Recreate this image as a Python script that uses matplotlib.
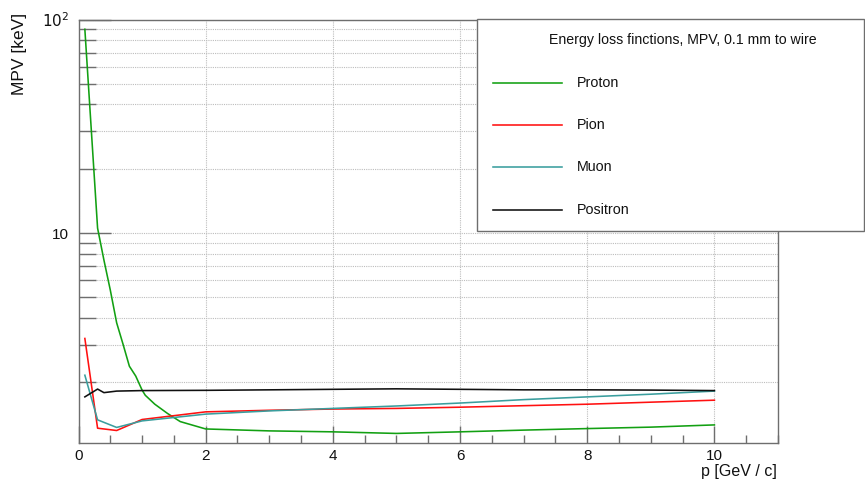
import matplotlib
matplotlib.use("Agg")
import matplotlib.pyplot as plt
from matplotlib.ticker import MultipleLocator, LogLocator, FixedLocator, FixedFormatter, NullFormatter
from matplotlib.lines import Line2D
from matplotlib.patches import Rectangle

plt.rcParams['font.family'] = ['Liberation Sans', 'DejaVu Sans']

# ---- data ----
proton_p = [0.1, 0.3, 0.4, 0.5, 0.6, 0.7, 0.8, 0.9, 1.0, 1.05, 1.2, 1.4, 1.6, 2, 3, 4, 5, 6, 7, 8, 9, 10]
proton_mpv = [90.0, 10.55, 7.47, 5.41, 3.80, 3.02, 2.38, 2.14, 1.84, 1.74, 1.58, 1.43, 1.31, 1.21,
              1.185, 1.173, 1.153, 1.173, 1.195, 1.215, 1.234, 1.264]

pion_p = [0.1, 0.3, 0.6, 1.0, 2, 3, 4, 5, 6, 7, 8, 9, 10]
pion_mpv = [3.21, 1.22, 1.19, 1.34, 1.455, 1.48, 1.50, 1.51, 1.53, 1.555, 1.58, 1.615, 1.65]

muon_p = [0.1, 0.3, 0.6, 1.0, 2, 3, 4, 5, 6, 7, 8, 9, 10]
muon_mpv = [2.16, 1.335, 1.23, 1.32, 1.42, 1.47, 1.51, 1.55, 1.60, 1.66, 1.71, 1.76, 1.82]

positron_p = [0.1, 0.3, 0.4, 0.6, 1.0, 2, 3, 4, 5, 6, 7, 8, 9, 10]
positron_mpv = [1.71, 1.86, 1.79, 1.82, 1.83, 1.835, 1.845, 1.855, 1.865, 1.855, 1.845, 1.845, 1.84, 1.83]

series_names = ["Proton", "Pion", "Muon", "Positron"]
series_colors = ["#12a012", "#ff1010", "#3a9e9e", "#101010"]
legend_title = "Energy loss finctions, MPV, 0.1 mm to wire"
x_label = "p [GeV / c]"
y_label = "MPV [keV]"
x_lim = (0, 11)
y_lim = (1.04, 100)

W, H = 865, 480
fig = plt.figure(figsize=(W / 100, H / 100), dpi=100)
ax = fig.add_axes([78.5 / W, 1 - 443 / H, (778 - 78.5) / W, (443 - 19.5) / H])

data = [(proton_p, proton_mpv), (pion_p, pion_mpv), (muon_p, muon_mpv), (positron_p, positron_mpv)]
for (xs, ys), c in zip(data, series_colors):
    ax.plot(xs, ys, color=c, lw=1.15, solid_joinstyle='round', zorder=3)

ax.set_yscale('log')
ax.set_xlim(*x_lim)
ax.set_ylim(*y_lim)

frame_col = '#6e6e6e'
for s in ax.spines.values():
    s.set_color(frame_col)
    s.set_linewidth(1.0)

ax.xaxis.set_major_locator(MultipleLocator(2))
ax.xaxis.set_minor_locator(MultipleLocator(0.5))
ax.yaxis.set_major_locator(FixedLocator([10, 100]))
ax.yaxis.set_major_formatter(FixedFormatter(["10", r"$10^{2}$"]))
ax.yaxis.set_minor_locator(LogLocator(base=10, subs=[2, 3, 4, 5, 6, 7, 8, 9]))
ax.yaxis.set_minor_formatter(NullFormatter())

ax.tick_params(axis='both', which='both', direction='in', color=frame_col, width=1.0,
               labelsize=11, labelcolor='#111111', top=False, right=False)
ax.tick_params(axis='x', which='major', length=12, pad=4)
ax.tick_params(axis='x', which='minor', length=6)
ax.tick_params(axis='y', which='major', length=23, pad=7)
ax.tick_params(axis='y', which='minor', length=12)

grid_kw = dict(color='#bdbdbd', linestyle=(0, (1, 1)), linewidth=0.8)
ax.grid(True, axis='x', which='major', **grid_kw)
ax.grid(True, axis='y', which='both', **grid_kw)
ax.set_axisbelow(True)

fig.text(20 / W, 1 - 13 / H, y_label, rotation=90, ha='center', va='top', fontsize=12.5, color='#111111')
fig.text(777 / W, 1 - 476 / H, x_label, ha='right', va='baseline', fontsize=11.5, color='#111111')

# legend box (figure pixel coords)
def fx(px):
    return px / W

def fy(py):
    return 1 - py / H

fig.add_artist(Rectangle((fx(477.3), fy(230.7)), fx(864) - fx(477.3), fy(18.5) - fy(230.7),
                         transform=fig.transFigure, facecolor='white', edgecolor='#6e6e6e',
                         linewidth=1.0, zorder=10))
fig.text(fx(682.5), fy(40), legend_title, ha='center', va='center', fontsize=10.2,
         color='#111111', zorder=11)
entry_y = [82.7, 125, 167.3, 210]
for name, c, ey in zip(series_names, series_colors, entry_y):
    fig.add_artist(Line2D([fx(492.7), fx(561.7)], [fy(ey), fy(ey)], transform=fig.transFigure,
                          color=c, lw=1.15, zorder=11))
    fig.text(fx(577.3), fy(ey), name, ha='left', va='center', fontsize=10.3, color='#111111', zorder=11)

fig.savefig("out.png", dpi=100)
